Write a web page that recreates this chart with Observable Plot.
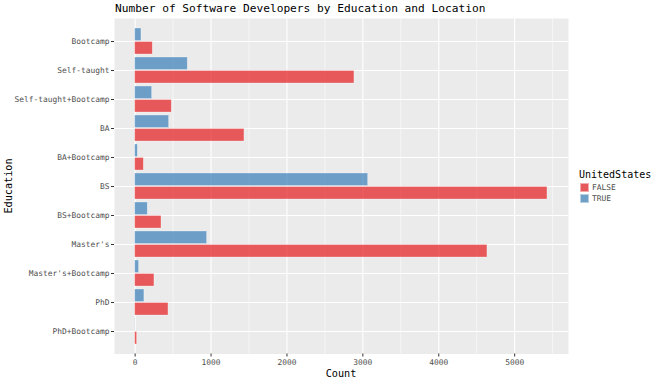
<!DOCTYPE html>
<html>
<head>
<meta charset="utf-8">
<script src="https://cdn.jsdelivr.net/npm/d3@7"></script>
<script src="https://cdn.jsdelivr.net/npm/@observablehq/plot@0.6"></script>
<style>
  body { margin: 0; background: #fff; }
  #wrap { position: relative; width: 656px; height: 379px; font-family: "DejaVu Sans Mono", monospace; }
  #title { position: absolute; left: 115px; top: 0px; font-size: 11.2px; line-height: 18px; color: #000; white-space: nowrap; }
  #xlabel { position: absolute; left: 341px; top: 373px; transform: translate(-50%, -50%); font-size: 10.2px; color: #000; }
  #ylabel { position: absolute; left: 8px; top: 185.5px; transform: translate(-50%, -50%) rotate(-90deg); font-size: 10.2px; color: #000; white-space: nowrap; }
  #legend { position: absolute; left: 579px; top: 168px; }
  #legend .lt { font-size: 10px; color: #000; line-height: 13px; margin-bottom: 1px; }
  #legend .row { display: flex; align-items: center; height: 11px; }
  #legend .key { width: 9px; height: 9px; margin-left: 1px; margin-right: 3px; box-sizing: border-box; border: 0.6px solid rgba(255,255,255,0.5); }
  #legend .lab { font-size: 7.9px; color: #4D4D4D; }
  #chart { position: absolute; left: 0; top: 0; }
</style>
</head>
<body>
<div id="wrap">
  <div id="chart"></div>
  <div id="title">Number of Software Developers by Education and Location</div>
  <div id="xlabel">Count</div>
  <div id="ylabel">Education</div>
  <div id="legend"></div>
</div>
<script>
const education = ["Bootcamp", "Self-taught", "Self-taught+Bootcamp", "BA", "BA+Bootcamp", "BS",
  "BS+Bootcamp", "Master's", "Master's+Bootcamp", "PhD", "PhD+Bootcamp"];
const countTrue  = [83, 693, 224, 448, 35, 3070, 166, 948, 52, 122, 4];
const countFalse = [232, 2889, 482, 1440, 114, 5432, 347, 4641, 254, 439, 26];
const groups = ["FALSE", "TRUE"];
const groupColors = ["#E41A1C", "#377EB8"];
const xTicks = [0, 1000, 2000, 3000, 4000, 5000];
const xMinor = [500, 1500, 2500, 3500, 4500, 5500];

const rows = education.flatMap((e, i) => [
  {Education: e, UnitedStates: "FALSE", Count: countFalse[i]},
  {Education: e, UnitedStates: "TRUE", Count: countTrue[i]}
]);

const barStyle = {x: "Count", y: "Education", fill: "UnitedStates", fillOpacity: 0.7,
  stroke: "#fff", strokeOpacity: 0.5, strokeWidth: 0.6};

const chart = Plot.plot({
  width: 656, height: 379,
  marginTop: 18, marginBottom: 25.5, marginLeft: 114, marginRight: 88,
  style: {fontFamily: "DejaVu Sans Mono", fontSize: "7.9px", color: "#4D4D4D", background: "transparent"},
  x: {domain: [-272, 5709], label: null},
  y: {domain: education, paddingInner: 0.1, paddingOuter: 0.15, label: null},
  color: {domain: groups, range: groupColors},
  marks: [
    Plot.frame({fill: "#EBEBEB", stroke: null}),
    Plot.gridX(xMinor, {stroke: "#fff", strokeOpacity: 1, strokeWidth: 0.55}),
    Plot.gridX(xTicks, {stroke: "#fff", strokeOpacity: 1, strokeWidth: 1.1}),
    Plot.gridY({stroke: "#fff", strokeOpacity: 1, strokeWidth: 1.1}),
    Plot.barX(rows.filter(d => d.UnitedStates === "TRUE"), {...barStyle, insetBottom: 13.5}),
    Plot.barX(rows.filter(d => d.UnitedStates === "FALSE"), {...barStyle, insetTop: 13.5}),
    Plot.axisX(xTicks, {tickSize: 3, tickPadding: 2, stroke: "#333", fill: "#4D4D4D", label: null, tickFormat: d => String(d)}),
    Plot.axisY({tickSize: 3, tickPadding: 2, stroke: "#333", fill: "#4D4D4D", label: null})
  ]
});
document.getElementById("chart").appendChild(chart);

// legend
const blend = (c) => { const k = d3.rgb(c); const bg = 235; return d3.rgb(k.r*0.7+bg*0.3, k.g*0.7+bg*0.3, k.b*0.7+bg*0.3).formatHex(); };
const leg = document.getElementById("legend");
leg.innerHTML = `<div class="lt">UnitedStates</div>` + groups.map((g, i) =>
  `<div class="row"><div class="key" style="background:${blend(groupColors[i])}"></div><span class="lab">${g}</span></div>`).join("");
</script>
</body>
</html>
